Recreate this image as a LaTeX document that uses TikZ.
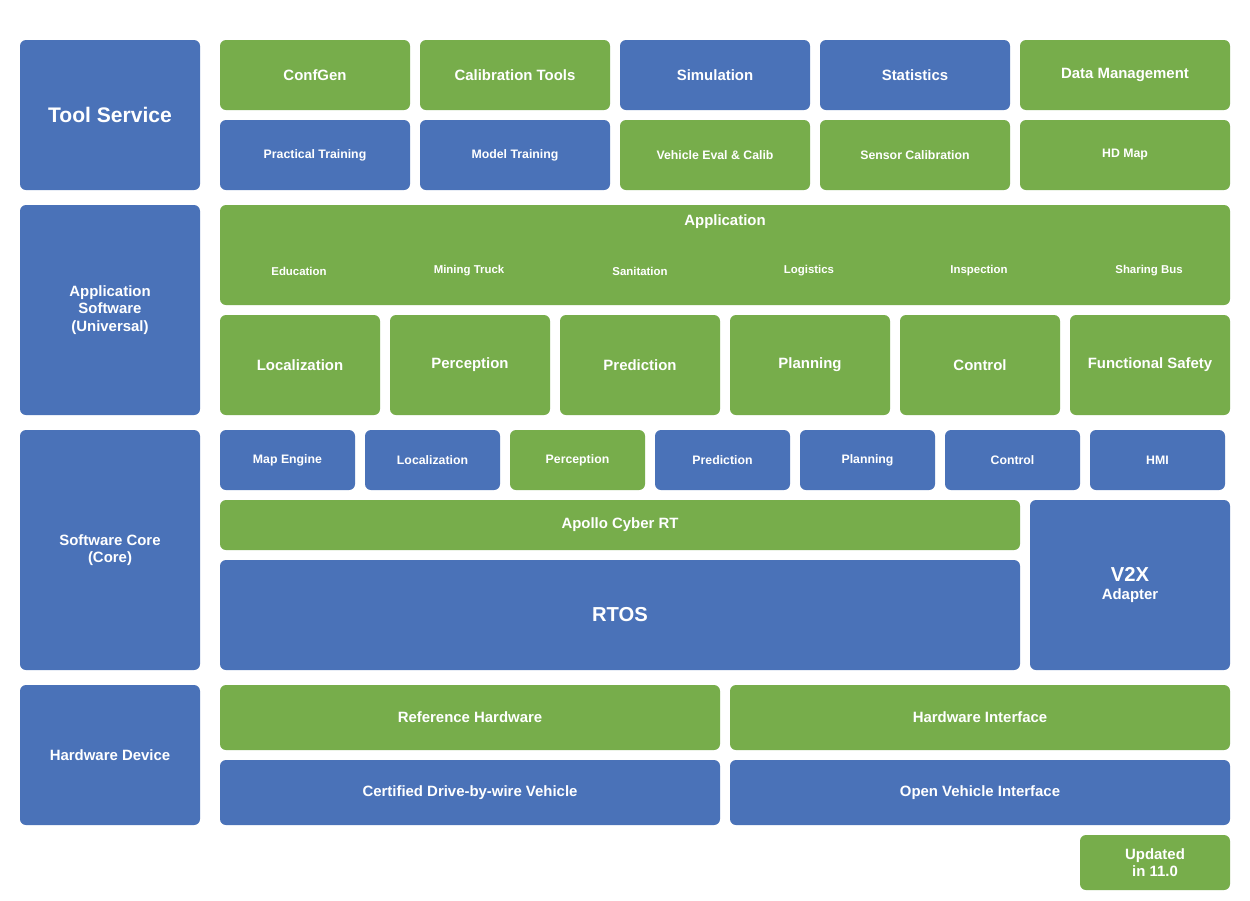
\documentclass[tikz,border=0pt]{standalone}
\usepackage{fontspec}
\setmainfont{Liberation Sans}
\definecolor{bl}{HTML}{4A72B8}
\definecolor{gr}{HTML}{77AD4B}
\newcommand{\bx}[7]{\node[box,fill=#6,minimum width={(#4-#2)*0.02cm},minimum height={(#5-#3)*0.02cm}] (#1) at ({(#2+#4)/2},{(#3+#5)/2}) {#7};}
\begin{document}
\begin{tikzpicture}[x=0.02cm,y=-0.02cm,
 box/.style={draw=none,rounded corners=0.12cm,text=white,font=\bfseries\fontsize{8.5}{10}\selectfont,align=center,inner sep=0pt},
 big/.style={font=\bfseries\fontsize{12}{14}\selectfont},
 sm/.style={font=\bfseries\fontsize{7}{8.5}\selectfont},
 xs/.style={font=\bfseries\fontsize{6.5}{8}\selectfont,text=white}]
\useasboundingbox[fill=white] (0,0) rectangle (1250,900);
\tikzset{box/.append style={}}
\bx{ts}{20}{40}{200}{190}{bl}{\fontsize{12}{14}\selectfont Tool Service}
\bx{cg}{220}{40}{410}{110}{gr}{ConfGen}
\bx{ct}{420}{40}{610}{110}{gr}{Calibration Tools}
\bx{si}{620}{40}{810}{110}{bl}{Simulation}
\bx{st}{820}{40}{1010}{110}{bl}{Statistics}
\bx{dm}{1020}{40}{1230}{110}{gr}{\raisebox{2pt}{Data Management}}
\bx{pt}{220}{120}{410}{190}{bl}{\fontsize{7}{8.5}\selectfont Practical Training}
\bx{mt}{420}{120}{610}{190}{bl}{\fontsize{7}{8.5}\selectfont Model Training}
\bx{ve}{620}{120}{810}{190}{gr}{\fontsize{7}{8.5}\selectfont Vehicle Eval \& Calib}
\bx{sc}{820}{120}{1010}{190}{gr}{\fontsize{7}{8.5}\selectfont Sensor Calibration}
\bx{hd}{1020}{120}{1230}{190}{gr}{\fontsize{7}{8.5}\selectfont HD Map}
\bx{as}{20}{205}{200}{415}{bl}{Application\\Software\\(Universal)}
\bx{ap}{220}{205}{1230}{305}{gr}{}
\node[xs,font=\bfseries\fontsize{8.5}{10}\selectfont] (apt) at (725,222) {Application};
\node[xs] (a1) at (299,271) {Education};
\node[xs] (a2) at (469,271) {Mining Truck};
\node[xs] (a3) at (640,271) {Sanitation};
\node[xs] (a4) at (809,271) {Logistics};
\node[xs] (a5) at (979,271) {Inspection};
\node[xs] (a6) at (1149,271) {Sharing Bus};
\bx{l1}{220}{315}{380}{415}{gr}{Localization}
\bx{p1}{390}{315}{550}{415}{gr}{\raisebox{2pt}{Perception}}
\bx{r1}{560}{315}{720}{415}{gr}{Prediction}
\bx{n1}{730}{315}{890}{415}{gr}{\raisebox{2pt}{Planning}}
\bx{c1}{900}{315}{1060}{415}{gr}{Control}
\bx{f1}{1070}{315}{1230}{415}{gr}{\raisebox{2pt}{Functional Safety}}
\bx{sw}{20}{430}{200}{670}{bl}{Software Core\\(Core)}
\bx{me}{220}{430}{355}{490}{bl}{\fontsize{7}{8.5}\selectfont\raisebox{1pt}{Map Engine}}
\bx{l2}{365}{430}{500}{490}{bl}{\fontsize{7}{8.5}\selectfont Localization}
\bx{p2}{510}{430}{645}{490}{gr}{\fontsize{7}{8.5}\selectfont\raisebox{1pt}{Perception}}
\bx{r2}{655}{430}{790}{490}{bl}{\fontsize{7}{8.5}\selectfont Prediction}
\bx{n2}{800}{430}{935}{490}{bl}{\fontsize{7}{8.5}\selectfont\raisebox{1pt}{Planning}}
\bx{c2}{945}{430}{1080}{490}{bl}{\fontsize{7}{8.5}\selectfont Control}
\bx{hm}{1090}{430}{1225}{490}{bl}{\fontsize{7}{8.5}\selectfont HMI}
\bx{cy}{220}{500}{1020}{550}{gr}{Apollo Cyber RT}
\bx{rt}{220}{560}{1020}{670}{bl}{\fontsize{11.5}{13}\selectfont RTOS}
\bx{v2}{1030}{500}{1230}{670}{bl}{\fontsize{11.5}{12.5}\selectfont V2X\\Adapter}
\bx{hw}{20}{685}{200}{825}{bl}{Hardware Device}
\bx{rh}{220}{685}{720}{750}{gr}{Reference Hardware}
\bx{hi}{730}{685}{1230}{750}{gr}{Hardware Interface}
\bx{cd}{220}{760}{720}{825}{bl}{Certified Drive-by-wire Vehicle}
\bx{ov}{730}{760}{1230}{825}{bl}{Open Vehicle Interface}
\bx{up}{1080}{835}{1230}{890}{gr}{Updated\\in 11.0}
\end{tikzpicture}
\end{document}
